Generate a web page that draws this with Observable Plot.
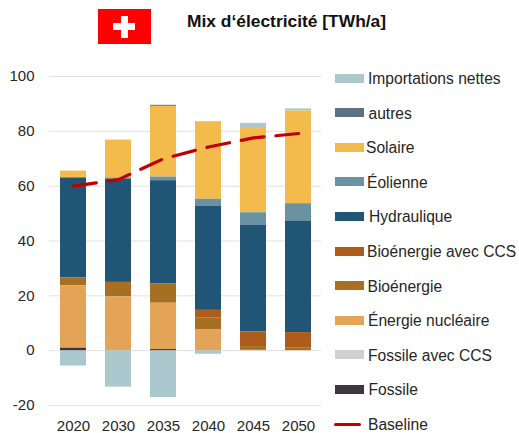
<!DOCTYPE html>
<html lang="fr">
<head>
<meta charset="utf-8">
<script src="https://cdn.jsdelivr.net/npm/d3@7"></script>
<script src="https://cdn.jsdelivr.net/npm/@observablehq/plot@0.6"></script>
<style>
html,body{margin:0;padding:0;background:#fff;}
#root{position:relative;width:519px;height:433px;overflow:hidden;font-family:"Liberation Sans",Arial,sans-serif;color:#262626;}
#root svg{position:absolute;left:0;top:0;}
.flag{position:absolute;left:98px;top:9px;width:53px;height:35px;background:#ff0000;}
.flag i{position:absolute;background:#fff;}
.title{position:absolute;left:187px;top:11px;font-size:17.4px;font-weight:700;color:#111;white-space:nowrap;line-height:20px;}
.sw{position:absolute;left:335px;width:29px;height:9px;}
.lb{position:absolute;font-size:15.6px;line-height:18px;white-space:nowrap;}
.ln{position:absolute;left:334px;width:27px;height:3px;background:#c00000;border-radius:2px;}
</style>
</head>
<body>
<div id="root"></div>
<script>
const years = ["2020", "2030", "2035", "2040", "2045", "2050"];

const fossile      = [0.9, 0, 0.4, 0, 0, 0];
const fossileCCS   = [0, 0, 0, 0, 0, 0];
const nucleaire    = [22.8, 19.6, 16.9, 7.7, 0.1, 0];
const bioenergie   = [2.9, 5.3, 7.0, 4.3, 1.4, 0.9];
const bioCCS       = [0, 0, 0, 2.7, 5.4, 5.7];
const hydraulique  = [36.4, 37.7, 37.7, 37.9, 38.9, 40.7];
const eolienne     = [0, 0.4, 1.3, 2.6, 4.5, 6.3];
const solaire      = [2.5, 13.8, 25.8, 28.3, 30.7, 33.8];
const autres       = [0, 0, 0.4, 0, 0, 0];
const importations = [-5.6, -13.3, -17.1, -1.3, 1.9, 0.8];
const baseline     = [60, 62.4, 70, 74.3, 77.6, 79.2];

const seriesNames = ["Importations nettes", "autres", "Solaire", "Éolienne", "Hydraulique",
  "Bioénergie avec CCS", "Bioénergie", "Énergie nucléaire", "Fossile avec CCS", "Fossile"];
const seriesValues = [importations, autres, solaire, eolienne, hydraulique,
  bioCCS, bioenergie, nucleaire, fossileCCS, fossile];
const seriesColors = ["#abc8ce", "#5b7184", "#f2bb4c", "#6a92a3", "#205575",
  "#ad5c1b", "#a66f21", "#e3a458", "#d0d0d0", "#3f3540"];
const labelLeft = [368, 368.5, 366, 367, 369, 367, 367.5, 368, 368, 368.5];

const rows = seriesNames.flatMap((s, i) => years.map((y, j) => ({year: y, series: s, value: seriesValues[i][j]})));
const baselineRows = years.map((y, j) => ({year: y, value: baseline[j]}));
const stackOrder = seriesNames.slice().reverse();

const chart = Plot.plot({
  width: 519, height: 433,
  marginLeft: 49, marginRight: 198, marginTop: 76, marginBottom: 28,
  style: {fontFamily: '"Liberation Sans",Arial,sans-serif', background: "transparent", overflow: "visible"},
  x: {domain: years, paddingInner: 0.43, paddingOuter: 0.215, align: 0.5, label: null, tickSize: 0, tickPadding: 15},
  y: {domain: [-20, 100], ticks: [-20, 0, 20, 40, 60, 80, 100], label: null, tickSize: 0, tickPadding: 15, tickFormat: d => String(d)},
  color: {domain: seriesNames, range: seriesColors},
  marks: [
    Plot.gridY([-20, 0, 20, 40, 60, 80, 100], {stroke: "#e2e2e2", strokeOpacity: 1, strokeWidth: 1}),
    Plot.barY(rows.filter(d => d.value !== 0), {x: "year", y: "value", z: "series", fill: "series", order: stackOrder}),
    Plot.line(baselineRows, {x: "year", y: "value", stroke: "#c00000", strokeWidth: 3.2, strokeDasharray: "23 12", strokeLinecap: "round", curve: "linear"})
  ]
});
chart.querySelectorAll("[aria-label='x-axis tick label'] text, [aria-label='y-axis tick label'] text")
  .forEach(t => { t.setAttribute("font-size", "15"); t.style.fontSize = "15px"; t.style.fill = "#262626"; });

const root = document.getElementById("root");
root.appendChild(chart);

function add(cls, css, text) {
  const e = document.createElement("div");
  e.className = cls;
  Object.assign(e.style, css);
  if (text) e.textContent = text;
  root.appendChild(e);
  return e;
}
const flag = add("flag", {});
for (const css of [{left: "15px", top: "14px", width: "22px", height: "7px"}, {left: "22.5px", top: "6.5px", width: "7px", height: "22px"}]) {
  const c = document.createElement("i");
  Object.assign(c.style, css);
  flag.appendChild(c);
}
add("title", {}, "Mix d‘électricité [TWh/a]");

const rowTop = 78, rowStep = 34.6;
seriesNames.forEach((s, i) => {
  const cy = rowTop + i * rowStep;
  add("sw", {top: (cy - 4.5) + "px", background: seriesColors[i]});
  add("lb", {left: labelLeft[i] + "px", top: (cy - 8) + "px"}, s);
});
const by = rowTop + 10 * rowStep;
add("ln", {top: (by - 1.5) + "px"});
add("lb", {left: "368px", top: (by - 8) + "px"}, "Baseline");
</script>
</body>
</html>
